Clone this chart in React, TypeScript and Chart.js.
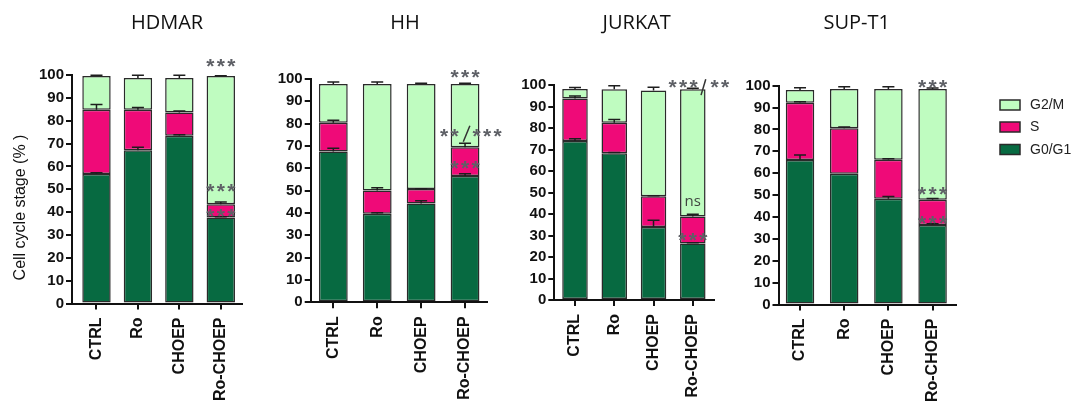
import React, { useEffect, useRef } from 'react';
import { Chart, registerables } from 'chart.js';

Chart.register(...registerables);

// ---- data -------------------------------------------------------------
const CATEGORIES = ['CTRL', 'Ro', 'CHOEP', 'Ro-CHOEP'];
const PHASES = ['G0/G1', 'S', 'G2/M']; // stacking order, bottom to top
const LEGEND_ORDER = ['G2/M', 'S', 'G0/G1'];
const Y_MIN = 0;
const Y_MAX = 100;
const Y_STEP = 10;

// HDMAR: mean % of cells in each phase, with SEM
const HDMAR_G0G1 = [56.7, 67.1, 73.4, 37.6];
const HDMAR_S = [28.1, 17.7, 10.2, 5.8];
const HDMAR_G2M = [14.8, 13.9, 15.1, 56.2];
const HDMAR_G0G1_SEM = [0.5, 1.3, 0.5, 0.4];
const HDMAR_S_SEM = [2.3, 1.0, 0.6, 1.0];
const HDMAR_G2M_SEM = [0.3, 1.2, 1.2, 0.1];

// HH
const HH_G0G1 = [67.5, 39.7, 44.3, 56.6];
const HH_S = [12.9, 10.4, 6.4, 12.8];
const HH_G2M = [17.4, 47.7, 47.1, 28.4];
const HH_G0G1_SEM = [1.5, 0.4, 1.2, 1.0];
const HH_S_SEM = [1.1, 1.2, 0.2, 1.8];
const HH_G2M_SEM = [0.9, 0.9, 0.3, 0.3];

// JURKAT
const JURKAT_G0G1 = [73.9, 68.2, 34.0, 26.3];
const JURKAT_S = [19.8, 14.2, 14.2, 12.5];
const JURKAT_G2M = [4.4, 15.6, 49.3, 59.2];
const JURKAT_G0G1_SEM = [1.1, 0.4, 3.1, 0.3];
const JURKAT_S_SEM = [1.2, 1.5, 0.3, 1.1];
const JURKAT_G2M_SEM = [0.7, 1.7, 1.4, 0.5];

// SUP-T1
const SUPT1_G0G1 = [66.0, 59.8, 48.3, 36.3];
const SUPT1_S = [26.2, 20.7, 17.9, 11.6];
const SUPT1_G2M = [5.8, 18.0, 32.3, 50.6];
const SUPT1_G0G1_SEM = [2.3, 0, 1.1, 0.6];
const SUPT1_S_SEM = [0.5, 0.6, 0.4, 0.6];
const SUPT1_G2M_SEM = [1.1, 1.0, 1.0, 0.4];

// significance labels: category position and height in % units
type Mark = { x: number; y: number; text: string };
type Slash = { x1: number; y1: number; x2: number; y2: number };

const HDMAR_MARKS: Mark[] = [
  { x: 3, y: 106.1, text: '***' },
  { x: 3, y: 51.1, text: '***' },
  { x: 3, y: 40.2, text: '***' },
];
const HH_MARKS: Mark[] = [
  { x: 3, y: 103.0, text: '***' },
  { x: 2.64, y: 76.7, text: '**' },
  { x: 3.5, y: 76.7, text: '***' },
  { x: 3, y: 62.4, text: '***' },
];
const HH_SLASHES: Slash[] = [{ x1: 3.11, y1: 79.1, x2: 2.96, y2: 71.9 }];
const JURKAT_MARKS: Mark[] = [
  { x: 2.75, y: 101.5, text: '***' },
  { x: 3.69, y: 101.5, text: '**' },
  { x: 3, y: 29.9, text: '***' },
];
const JURKAT_NOTES: Mark[] = [{ x: 3, y: 45.7, text: 'ns' }];
const JURKAT_SLASHES: Slash[] = [{ x1: 3.33, y1: 102.7, x2: 3.21, y2: 95.3 }];
const SUPT1_MARKS: Mark[] = [
  { x: 3, y: 101.4, text: '***' },
  { x: 3, y: 52.7, text: '***' },
  { x: 3, y: 39.5, text: '***' },
];

// ---- styling -----------------------------------------------------------
const PHASE_FILL: Record<string, string> = {
  'G0/G1': '#076a41',
  S: '#ef0a78',
  'G2/M': '#bffcc0',
};
const EDGE = '#2a2a2a';
const AXIS = '#111111';
const STAR = '#5e6066';
const SANS = '"Liberation Sans", Arial, sans-serif';
const TITLE_FONT = '"Open Sans", "Liberation Sans", sans-serif';
const H = 408;
const CAP = 6;
const STAR_SIZE = 21;
const STAR_PITCH = 10.5;

interface PanelSpec {
  title: string;
  series: number[][];
  sems: number[][];
  marks: Mark[];
  notes: Mark[];
  slashes: Slash[];
  left: number;
  right: number;
  axisX: number;
  plotRight: number;
  top: number;
  zero: number;
  titleX: number;
  xMin: number;
  xMax: number;
  barPct: number;
  yTitle?: boolean;
  legend?: boolean;
}

const PANELS: PanelSpec[] = [
  {
    title: 'HDMAR',
    series: [HDMAR_G0G1, HDMAR_S, HDMAR_G2M],
    sems: [HDMAR_G0G1_SEM, HDMAR_S_SEM, HDMAR_G2M_SEM],
    marks: HDMAR_MARKS, notes: [], slashes: [],
    left: 0, right: 262, axisX: 72, plotRight: 241.5, top: 75, zero: 303.5,
    titleX: 167, xMin: -0.591, xMax: 3.5, barPct: 0.685, yTitle: true,
  },
  {
    title: 'HH',
    series: [HH_G0G1, HH_S, HH_G2M],
    sems: [HH_G0G1_SEM, HH_S_SEM, HH_G2M_SEM],
    marks: HH_MARKS, notes: [], slashes: HH_SLASHES,
    left: 262, right: 512, axisX: 310.7, plotRight: 487, top: 79, zero: 302.3,
    titleX: 405, xMin: -0.515, xMax: 3.5, barPct: 0.656,
  },
  {
    title: 'JURKAT',
    series: [JURKAT_G0G1, JURKAT_S, JURKAT_G2M],
    sems: [JURKAT_G0G1_SEM, JURKAT_S_SEM, JURKAT_G2M_SEM],
    marks: JURKAT_MARKS, notes: JURKAT_NOTES, slashes: JURKAT_SLASHES,
    left: 512, right: 742, axisX: 554.3, plotRight: 714, top: 85, zero: 300,
    titleX: 636.7, xMin: -0.527, xMax: 3.54, barPct: 0.65,
  },
  {
    title: 'SUP-T1',
    series: [SUPT1_G0G1, SUPT1_S, SUPT1_G2M],
    sems: [SUPT1_G0G1_SEM, SUPT1_S_SEM, SUPT1_G2M_SEM],
    marks: SUPT1_MARKS, notes: [], slashes: [],
    left: 742, right: 1073, axisX: 778.5, plotRight: 956, top: 85.7, zero: 304.5,
    titleX: 856.7, xMin: -0.487, xMax: 3.53, barPct: 0.645, legend: true,
  },
];

// asterisks are set one by one with a fixed pitch, centred on (x, y)
function drawStars(ctx: CanvasRenderingContext2D, x: number, y: number, text: string) {
  ctx.font = `bold ${STAR_SIZE}px ${SANS}`;
  ctx.fillStyle = STAR;
  ctx.textAlign = 'center';
  ctx.textBaseline = 'alphabetic';
  const n = text.length;
  for (let i = 0; i < n; i++) {
    const cx = x + (i - (n - 1) / 2) * STAR_PITCH;
    ctx.fillText(text[i], cx, y + 0.56 * STAR_SIZE);
  }
}

function makeConfig(p: PanelSpec): any {
  const datasets = p.series.map((vals, k) => ({
    label: PHASES[k],
    data: vals.map((v, i) => ({ x: i, y: v })),
    backgroundColor: PHASE_FILL[PHASES[k]],
    borderColor: EDGE,
    borderWidth: 1.5,
    borderSkipped: false,
    barPercentage: p.barPct,
    categoryPercentage: 1,
  }));

  const decor = {
    id: 'panelDecor',
    afterDatasetsDraw(chart: any) {
      const { ctx } = chart;
      const xs = chart.scales.x;
      const ys = chart.scales.y;
      ctx.save();
      // upward SEM bars on each phase segment
      ctx.strokeStyle = '#1e1e1e';
      ctx.lineWidth = 1.5;
      CATEGORIES.forEach((_, i) => {
        let base = 0;
        p.series.forEach((vals, k) => {
          base += vals[i];
          const e = p.sems[k][i];
          if (!e) return;
          const px = xs.getPixelForValue(i);
          const y0 = ys.getPixelForValue(base);
          const y1 = ys.getPixelForValue(base + e);
          ctx.beginPath();
          ctx.moveTo(px, y0);
          ctx.lineTo(px, y1);
          ctx.moveTo(px - CAP, y1);
          ctx.lineTo(px + CAP, y1);
          ctx.stroke();
        });
      });
      // significance labels
      p.marks.forEach((m) => drawStars(ctx, xs.getPixelForValue(m.x), ys.getPixelForValue(m.y), m.text));
      p.notes.forEach((m) => {
        ctx.font = `15px ${TITLE_FONT}`;
        ctx.fillStyle = '#404540';
        ctx.textAlign = 'center';
        ctx.textBaseline = 'alphabetic';
        ctx.fillText(m.text, xs.getPixelForValue(m.x), ys.getPixelForValue(m.y) + 4);
      });
      ctx.strokeStyle = '#333';
      ctx.lineWidth = 1.5;
      p.slashes.forEach((s) => {
        ctx.beginPath();
        ctx.moveTo(xs.getPixelForValue(s.x1), ys.getPixelForValue(s.y1));
        ctx.lineTo(xs.getPixelForValue(s.x2), ys.getPixelForValue(s.y2));
        ctx.stroke();
      });
      ctx.restore();
    },
    afterDraw(chart: any) {
      const { ctx } = chart;
      ctx.save();
      // panel title
      ctx.font = `20px ${TITLE_FONT}`;
      ctx.fillStyle = '#111';
      ctx.textAlign = 'center';
      ctx.textBaseline = 'middle';
      ctx.fillText(p.title, p.titleX - p.left, 23);
      if (p.yTitle) {
        ctx.save();
        ctx.translate(21 - p.left, 207.5);
        ctx.rotate(-Math.PI / 2);
        ctx.font = `16px ${SANS}`;
        ctx.fillStyle = '#111';
        ctx.textAlign = 'center';
        ctx.textBaseline = 'middle';
        ctx.fillText('Cell cycle stage (% )', 0, 0);
        ctx.restore();
      }
      if (p.legend) {
        const rows = [105, 127, 149.5];
        LEGEND_ORDER.forEach((name, r) => {
          const bx = 1000 - p.left;
          const by = rows[r] - 5;
          ctx.fillStyle = PHASE_FILL[name];
          ctx.fillRect(bx, by, 20, 10);
          ctx.strokeStyle = EDGE;
          ctx.lineWidth = 1.5;
          ctx.strokeRect(bx, by, 20, 10);
          ctx.font = `14px ${SANS}`;
          ctx.fillStyle = '#222';
          ctx.textAlign = 'left';
          ctx.textBaseline = 'middle';
          ctx.fillText(name, 1030 - p.left, rows[r] + 0.5);
        });
      }
      ctx.restore();
    },
  };

  return {
    type: 'bar',
    data: { datasets },
    plugins: [decor],
    options: {
      animation: false,
      responsive: false,
      devicePixelRatio: 1,
      events: [],
      layout: {
        padding: { left: 0, top: p.top, right: p.right - p.plotRight, bottom: 0 },
      },
      plugins: {
        legend: { display: false },
        tooltip: { enabled: false },
        title: { display: false },
      },
      scales: {
        x: {
          type: 'linear',
          stacked: true,
          offset: false,
          min: p.xMin,
          max: p.xMax,
          afterBuildTicks: (scale: any) => {
            scale.ticks = CATEGORIES.map((_, i) => ({ value: i }));
          },
          afterFit: (scale: any) => {
            scale.height = H - p.zero;
          },
          grid: {
            offset: false,
            drawOnChartArea: false,
            drawTicks: true,
            tickLength: 6,
            color: AXIS,
            lineWidth: 2,
          },
          border: { display: true, color: AXIS, width: 2 },
          ticks: {
            autoSkip: false,
            maxRotation: 90,
            minRotation: 90,
            padding: 8,
            color: AXIS,
            font: { family: SANS, size: 16, weight: 700 },
            callback: (v: any) => CATEGORIES[v] ?? '',
          },
        },
        y: {
          type: 'linear',
          stacked: true,
          min: Y_MIN,
          max: Y_MAX,
          afterFit: (scale: any) => {
            scale.width = p.axisX - p.left;
          },
          grid: {
            drawOnChartArea: false,
            drawTicks: true,
            tickLength: 6,
            color: AXIS,
            lineWidth: 2,
          },
          border: { display: true, color: AXIS, width: 2 },
          ticks: {
            stepSize: Y_STEP,
            padding: 2,
            color: AXIS,
            font: { family: SANS, size: 15, weight: 700 },
          },
        },
      },
    },
  };
}

function Panel({ spec }: { spec: PanelSpec }) {
  const ref = useRef<HTMLCanvasElement | null>(null);
  const width = spec.right - spec.left;
  useEffect(() => {
    if (!ref.current) return;
    const chart = new Chart(ref.current, makeConfig(spec));
    return () => chart.destroy();
  }, [spec]);
  return (
    <canvas
      ref={ref}
      width={width}
      height={H}
      style={{ position: 'absolute', left: spec.left, top: 0, width, height: H }}
    />
  );
}

export default function App() {
  return (
    <div
      style={{
        position: 'absolute',
        left: 0,
        top: 0,
        width: 1073,
        height: H,
        background: '#ffffff',
        overflow: 'hidden',
      }}
    >
      {PANELS.map((p) => (
        <Panel key={p.title} spec={p} />
      ))}
    </div>
  );
}
